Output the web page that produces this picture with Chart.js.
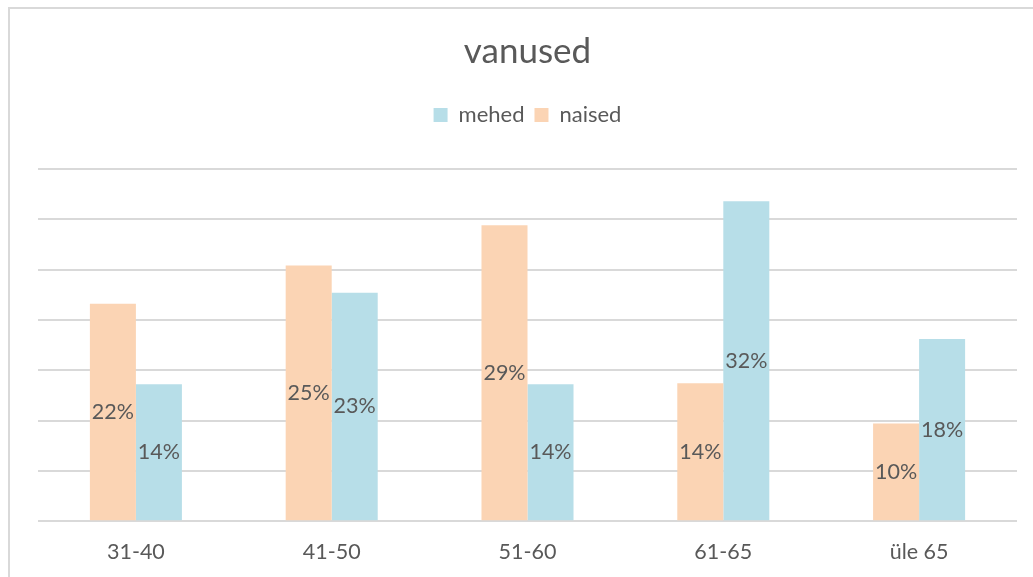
<!DOCTYPE html>
<html>
<head>
<meta charset="utf-8">
<script src="https://cdn.jsdelivr.net/npm/chart.js@4"></script>
<style>
  html, body { margin: 0; padding: 0; background: #fff; overflow: hidden; }
  #frame { position: absolute; left: 8px; top: 7px; width: 1040px; height: 590px; border: 2px solid #d9d9d9; }
  #wrap { position: absolute; left: 0; top: 0; width: 1033px; height: 577px; }
</style>
</head>
<body>
<div id="frame"></div>
<div id="wrap"><canvas id="chart"></canvas></div>
<script>
const categories = ["31-40", "41-50", "51-60", "61-65", "üle 65"];
const naised = [21.6, 25.4, 29.4, 13.7, 9.7];
const mehed  = [13.6, 22.7, 13.6, 31.8, 18.1];

const TEXT = "#595959";
const FONT = "Lato, 'Open Sans', sans-serif";

// value labels centred in each bar
const barLabels = {
  id: "barLabels",
  afterDatasetsDraw(chart) {
    const ctx = chart.ctx;
    ctx.save();
    ctx.fillStyle = TEXT;
    ctx.font = "21.5px " + FONT;
    ctx.textAlign = "center";
    ctx.textBaseline = "middle";
    chart.data.datasets.forEach((ds, i) => {
      chart.getDatasetMeta(i).data.forEach((bar, j) => {
        const y = (bar.y + bar.base) / 2;
        ctx.fillText(Math.round(ds.data[j]) + "%", bar.x, y);
      });
    });
    ctx.restore();
  }
};

// extra room under the legend, like the original
const legendGap = {
  id: "legendGap",
  beforeInit(chart) {
    const fit = chart.legend.fit;
    chart.legend.fit = function () {
      fit.call(this);
      this.height += 33;
    };
  }
};

new Chart(document.getElementById("chart"), {
  type: "bar",
  data: {
    labels: categories,
    datasets: [
      { label: "naised", data: naised, backgroundColor: "#fbd4b4" },
      { label: "mehed",  data: mehed,  backgroundColor: "#b7dee8" },
    ],
  },
  options: {
    responsive: true,
    maintainAspectRatio: false,
    animation: false,
    datasets: { bar: { barPercentage: 1, categoryPercentage: 0.47 } },
    layout: { padding: { left: 38, right: 16, top: 31, bottom: 2 } },
    plugins: {
      title: {
        display: true, text: "vanused", color: TEXT,
        font: { family: FONT, size: 35, weight: "normal" },
        padding: { top: 0, bottom: 21 },
      },
      legend: {
        reverse: true,
        labels: {
          color: TEXT, font: { family: FONT, size: 22 },
          boxWidth: 14, boxHeight: 14, padding: 10,
        },
      },
      tooltip: { enabled: false },
    },
    scales: {
      x: {
        grid: { display: false },
        border: { display: false },
        ticks: { color: TEXT, font: { family: FONT, size: 21.5 }, padding: 10 },
      },
      y: {
        min: 0, max: 35,
        ticks: { display: false, stepSize: 5 },
        border: { display: false },
        grid: { color: "#d9d9d9", lineWidth: 2, drawTicks: false },
      },
    },
  },
  plugins: [barLabels, legendGap],
});
</script>
</body>
</html>
